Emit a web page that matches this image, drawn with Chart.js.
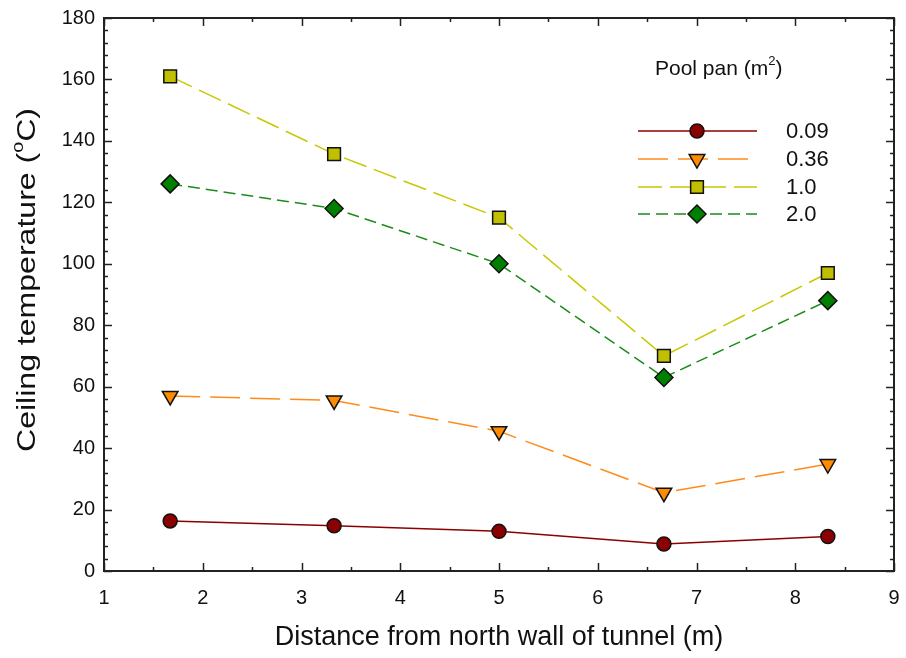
<!DOCTYPE html>
<html>
<head>
<meta charset="utf-8">
<script src="https://cdn.jsdelivr.net/npm/chart.js@4"></script>
<style>
  html, body { margin: 0; padding: 0; background: #fff; }
  #wrap { width: 906px; height: 658px; }
</style>
</head>
<body>
<div id="wrap"><canvas id="tempChart" width="906" height="658"></canvas></div>
<script>
// ===== DATA =====
const distances = [1.67, 3.33, 5.0, 6.67, 8.33];
const panSizes = ["0.09", "0.36", "1.0", "2.0"];
const temp009 = [16.3, 14.7, 12.9, 8.8, 11.2];
const temp036 = [57, 55.5, 45.5, 25.5, 34.8];
const temp100 = [161, 135.7, 115, 70, 97];
const temp200 = [126, 118, 100, 63, 88];
const xTicks = [1, 2, 3, 4, 5, 6, 7, 8, 9];
const yTicks = [0, 20, 40, 60, 80, 100, 120, 140, 160, 180];

const FONT = "'Liberation Sans', Arial, sans-serif";

const toPoints = vals => distances.map((d, i) => ({ x: d, y: vals[i] }));

const series = [
  { vals: temp009, line: "#8b0000", fill: "#8b0000", style: "circle", r: 7, rot: 0, dash: [] },
  { vals: temp036, line: "#ff8c1a", fill: "#ff8c00", style: "triangle", r: 9, rot: 180, dash: [30, 10] },
  { vals: temp100, line: "#c8c800", fill: "#c0c000", style: "rect", r: 9, rot: 0, dash: [24, 8] },
  { vals: temp200, line: "#1a8c1a", fill: "#008000", style: "rectRot", r: 9, rot: 0, dash: [12, 6] }
];

// draws text pieces (normal + superscript) starting at x
function richText(ctx, parts, x, y, size) {
  parts.forEach(([txt, sup]) => {
    ctx.font = (sup ? Math.round(size * 0.62) : size) + "px " + FONT;
    ctx.fillText(txt, x, sup ? y - size * 0.36 : y);
    x += ctx.measureText(txt).width;
  });
}
function richWidth(ctx, parts, size) {
  return parts.reduce((w, [txt, sup]) => {
    ctx.font = (sup ? Math.round(size * 0.62) : size) + "px " + FONT;
    return w + ctx.measureText(txt).width;
  }, 0);
}

// inward ticks + full box frame, y title, legend
const frame = {
  id: "frame",
  afterDatasetsDraw(chart) {
    const { ctx, chartArea: a, scales: { x, y } } = chart;
    ctx.save();
    ctx.strokeStyle = "#222";
    ctx.lineWidth = 2;
    ctx.strokeRect(a.left, a.top, a.right - a.left, a.bottom - a.top);
    ctx.lineWidth = 1.5;
    ctx.beginPath();
    for (let v = 1; v <= 9.001; v += 0.5) {
      const px = Math.round(x.getPixelForValue(v)) + 0.5;
      const len = Number.isInteger(v) ? 8 : 4;
      ctx.moveTo(px, a.bottom); ctx.lineTo(px, a.bottom - len);
      ctx.moveTo(px, a.top); ctx.lineTo(px, a.top + len);
    }
    for (let v = 0; v <= 180; v += 4) {
      const py = Math.round(y.getPixelForValue(v)) + 0.5;
      const len = v % 20 === 0 ? 8 : 4;
      ctx.moveTo(a.left, py); ctx.lineTo(a.left + len, py);
      ctx.moveTo(a.right, py); ctx.lineTo(a.right - len, py);
    }
    ctx.stroke();
    ctx.restore();
  },
  afterDraw(chart) {
    const { ctx } = chart;

    // y axis title, stretched along its length
    ctx.save();
    ctx.fillStyle = "#111";
    ctx.textBaseline = "middle";
    const yTitle = [["Ceiling temperature (", false], ["o", true], ["C)", false]];
    const yw = richWidth(ctx, yTitle, 26);
    ctx.translate(28, 280);
    ctx.rotate(-Math.PI / 2);
    ctx.scale(344 / yw, 1);
    richText(ctx, yTitle, -yw / 2, 0, 26);
    ctx.restore();

    // legend
    ctx.save();
    ctx.fillStyle = "#111";
    ctx.textBaseline = "middle";
    richText(ctx, [["Pool pan (m", false], ["2", true], [")", false]], 655, 69, 21);

    const rows = [131, 159, 187, 214];
    chart.data.datasets.forEach((ds, i) => {
      const yy = rows[i];
      ctx.save();
      ctx.strokeStyle = ds.borderColor;
      ctx.lineWidth = 1.5;
      ctx.setLineDash(ds.borderDash);
      ctx.beginPath();
      ctx.moveTo(638, yy); ctx.lineTo(757, yy);
      ctx.stroke();
      ctx.restore();
      ctx.save();
      ctx.fillStyle = ds.pointBackgroundColor;
      ctx.strokeStyle = "#111";
      ctx.lineWidth = 1.5;
      Chart.helpers.drawPoint(ctx, {
        pointStyle: ds.pointStyle, radius: ds.pointRadius,
        rotation: ds.pointRotation, borderWidth: 1.5
      }, 697, yy);
      ctx.restore();
      ctx.font = "22px " + FONT;
      ctx.fillStyle = "#111";
      ctx.fillText(ds.label, 786, yy + 1);
    });
    ctx.restore();
  }
};

new Chart(document.getElementById("tempChart"), {
  type: "scatter",
  data: {
    datasets: series.map((s, i) => ({
      label: panSizes[i],
      data: toPoints(s.vals),
      showLine: true,
      borderColor: s.line,
      borderWidth: 1.5,
      borderDash: s.dash,
      pointStyle: s.style,
      pointRadius: s.r,
      pointHoverRadius: s.r,
      pointRotation: s.rot,
      pointBackgroundColor: s.fill,
      pointBorderColor: "#111",
      pointBorderWidth: 1.5
    }))
  },
  options: {
    responsive: false,
    animation: false,
    layout: { padding: { left: 0, right: 12, top: 18, bottom: 0 } },
    plugins: {
      legend: { display: false },
      tooltip: { enabled: false }
    },
    scales: {
      x: {
        type: "linear",
        min: 1, max: 9,
        afterBuildTicks: s => { s.ticks = xTicks.map(v => ({ value: v })); },
        afterFit: s => { s.height = 87; s.paddingLeft = 0; s.paddingRight = 0; },
        grid: { display: false, drawTicks: false },
        border: { display: false },
        ticks: { color: "#111", font: { family: FONT, size: 20 }, padding: 15, maxRotation: 0 },
        title: {
          display: true,
          text: "Distance from north wall of tunnel (m)",
          color: "#111",
          font: { family: FONT, size: 27 },
          padding: { top: 8 }
        }
      },
      y: {
        min: 0, max: 180,
        afterBuildTicks: s => { s.ticks = yTicks.map(v => ({ value: v })); },
        afterFit: s => { s.width = 104; s.paddingTop = 0; s.paddingBottom = 0; },
        grid: { display: false, drawTicks: false },
        border: { display: false },
        ticks: { color: "#111", font: { family: FONT, size: 20 }, padding: 9 }
      }
    }
  },
  plugins: [frame]
});
</script>
</body>
</html>
